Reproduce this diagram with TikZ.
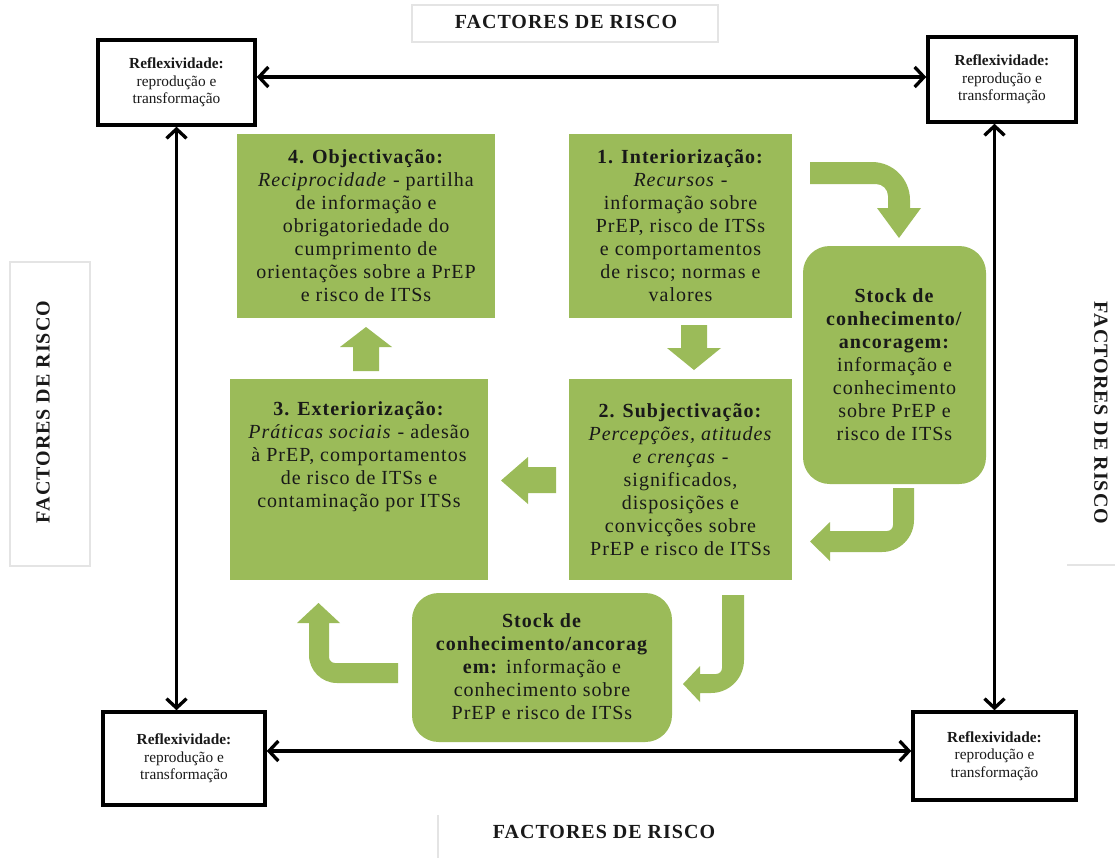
\documentclass[tikz,border=0pt]{standalone}
\usepackage{fontspec}
\setmainfont{Liberation Serif}[LetterSpace=5]
\newfontfamily\cornerfont{Liberation Serif}
\usetikzlibrary{fit,arrows.meta,calc}
\definecolor{gfill}{RGB}{155,187,89}
\definecolor{ink}{RGB}{25,25,25}
\definecolor{faint}{RGB}{228,228,228}
\begin{document}
\begin{tikzpicture}[x=0.75pt,y=-0.75pt,
 gbox/.style={fill=gfill, draw=none, inner sep=0pt},
 sbox/.style={gbox, rounded corners=20pt},
 btext/.style={align=center, text=ink, font=\fontsize{15}{17.25}\selectfont, inner sep=0pt},
 rbox/.style={draw=black, line width=2.6pt, fill=white, inner sep=0pt},
 rtext/.style={align=center, text=ink, font=\cornerfont\fontsize{11.5}{13}\selectfont, inner sep=0pt},
 hdr/.style={text=ink, font=\fontsize{15}{18}\selectfont\bfseries, inner sep=0pt},
 dbl/.style={line width=2.5pt, {Straight Barb[length=7pt,width=15pt]}-{Straight Barb[length=7pt,width=15pt]}},
 garrow/.style={fill=gfill, draw=none},
 faintline/.style={draw=faint, line width=0.8pt}
]
\useasboundingbox (0,0) rectangle (1115,858);
\fill[white] (0,0) rectangle (1115,858);

% faint label frames
\draw[faintline] (412,5) rectangle (718,42);
\draw[faintline] (10,262) rectangle (90,566);
\draw[faintline] (1067,565) -- (1115,565);
\draw[faintline] (438,815) -- (438,858);

% headers
\node[hdr] (htop) at (566,22) {FACTORES DE RISCO};
\node[hdr] (hbot) at (604,832) {FACTORES DE RISCO};
\node[hdr, rotate=90] (hleft) at (43,412) {FACTORES DE RISCO};
\node[hdr, rotate=-90] (hright) at (1101,413) {FACTORES DE RISCO};

% green boxes
\node[gbox, fit={(237,134) (495,318)}] (b4) {};
\node[btext] (b4t) at (b4) {\textbf{4. Objectivação:}\\\textit{Reciprocidade} - partilha\\de informação e\\obrigatoriedade do\\cumprimento de\\orientações sobre a PrEP\\e risco de ITSs};

\node[gbox, fit={(569,134) (792,318)}] (b1) {};
\node[btext] (b1t) at (b1) {\textbf{1. Interiorização:}\\\textit{Recursos} -\\informação sobre\\PrEP, risco de ITSs\\e comportamentos\\de risco; normas e\\valores};

\node[gbox, fit={(569,379) (792,580)}] (b2) {};
\node[btext] (b2t) at (b2) {\textbf{2. Subjectivação:}\\\textit{Percepções, atitudes}\\\textit{e crenças} -\\significados,\\disposições e\\convicções sobre\\PrEP e risco de ITSs};

\node[gbox, fit={(230,379) (488,580)}] (b3) {};
\node[btext] (b3t) at (359,457) {\textbf{3. Exteriorização:}\\\textit{Práticas sociais} - adesão\\à PrEP, comportamentos\\de risco de ITSs e\\contaminação por ITSs};

\node[sbox, fit={(803,246) (986,484)}] (s1) {};
\node[btext] (s1t) at (s1) {\textbf{Stock de}\\\textbf{conhecimento/}\\\textbf{ancoragem:}\\informação e\\conhecimento\\sobre PrEP e\\risco de ITSs};

\node[sbox, fit={(412,593) (672,742)}] (s2) {};
\node[btext] (s2t) at (542,667) {\textbf{Stock de}\\\textbf{conhecimento/ancorag}\\\textbf{em:} informação e\\conhecimento sobre\\PrEP e risco de ITSs};

% straight block arrows
\fill[garrow] (681,325) -- (707,325) -- (707,348) -- (721,348) -- (694,370) -- (667,348) -- (681,348) -- cycle;
\fill[garrow] (556,467) -- (556,493) -- (528,493) -- (528,504) -- (501,480.5) -- (528,457) -- (528,467) -- cycle;
\fill[garrow] (353,371) -- (379,371) -- (379,347) -- (392,347) -- (366,327) -- (340,347) -- (353,347) -- cycle;

% curved block arrows
\fill[garrow] (810,162) -- (872,162) arc[start angle=-90,end angle=0,radius=38] -- (910,208) -- (921,208) -- (899,238) -- (877,208) -- (888,208) -- (888,196) arc[start angle=0,end angle=-90,radius=12] -- (810,184) -- cycle;
\fill[garrow] (893,488) -- (914,488) -- (914,520) arc[start angle=0,end angle=90,radius=32] -- (830,552) -- (830,561) -- (810,541.5) -- (830,522) -- (830,531) -- (887,531) arc[start angle=90,end angle=0,radius=6] -- cycle;
\fill[garrow] (722,595) -- (744,595) -- (744,660) arc[start angle=0,end angle=90,radius=33] -- (700,693) -- (700,702) -- (683,684) -- (700,666) -- (700,674) -- (716,674) arc[start angle=90,end angle=0,radius=6] -- cycle;
\fill[garrow] (398,663) -- (398,683) -- (337,683) arc[start angle=90,end angle=180,radius=28] -- (309,623) -- (297,623) -- (318.5,603) -- (340,623) -- (329,623) -- (329,657) arc[start angle=180,end angle=90,radius=6] -- cycle;

% corner boxes
\node[rbox, fit={(98,40) (255,125)}] (tl) {};
\node[rtext] (tlt) at (tl) {\textbf{Reflexividade:}\\reprodução e\\transformação};
\node[rbox, fit={(928,37) (1076,122)}] (tr) {};
\node[rtext] (trt) at (tr) {\textbf{Reflexividade:}\\reprodução e\\transformação};
\node[rbox, fit={(103,712) (265,805)}] (bl) {};
\node[rtext] (blt) at (bl) {\textbf{Reflexividade:}\\reprodução e\\transformação};
\node[rbox, fit={(913,712) (1076,800)}] (br) {};
\node[rtext] (brt) at (br) {\textbf{Reflexividade:}\\reprodução e\\transformação};

% black double arrows
\draw[dbl] (tl.east |- 0,77) -- (tr.west |- 0,77);
\draw[dbl] (bl.east |- 0,751) -- (br.west |- 0,751);
\draw[dbl] (tl.south) -- (tl.south |- bl.north);
\draw[dbl] (br.north |- tr.south) -- (br.north);
\end{tikzpicture}
\end{document}
